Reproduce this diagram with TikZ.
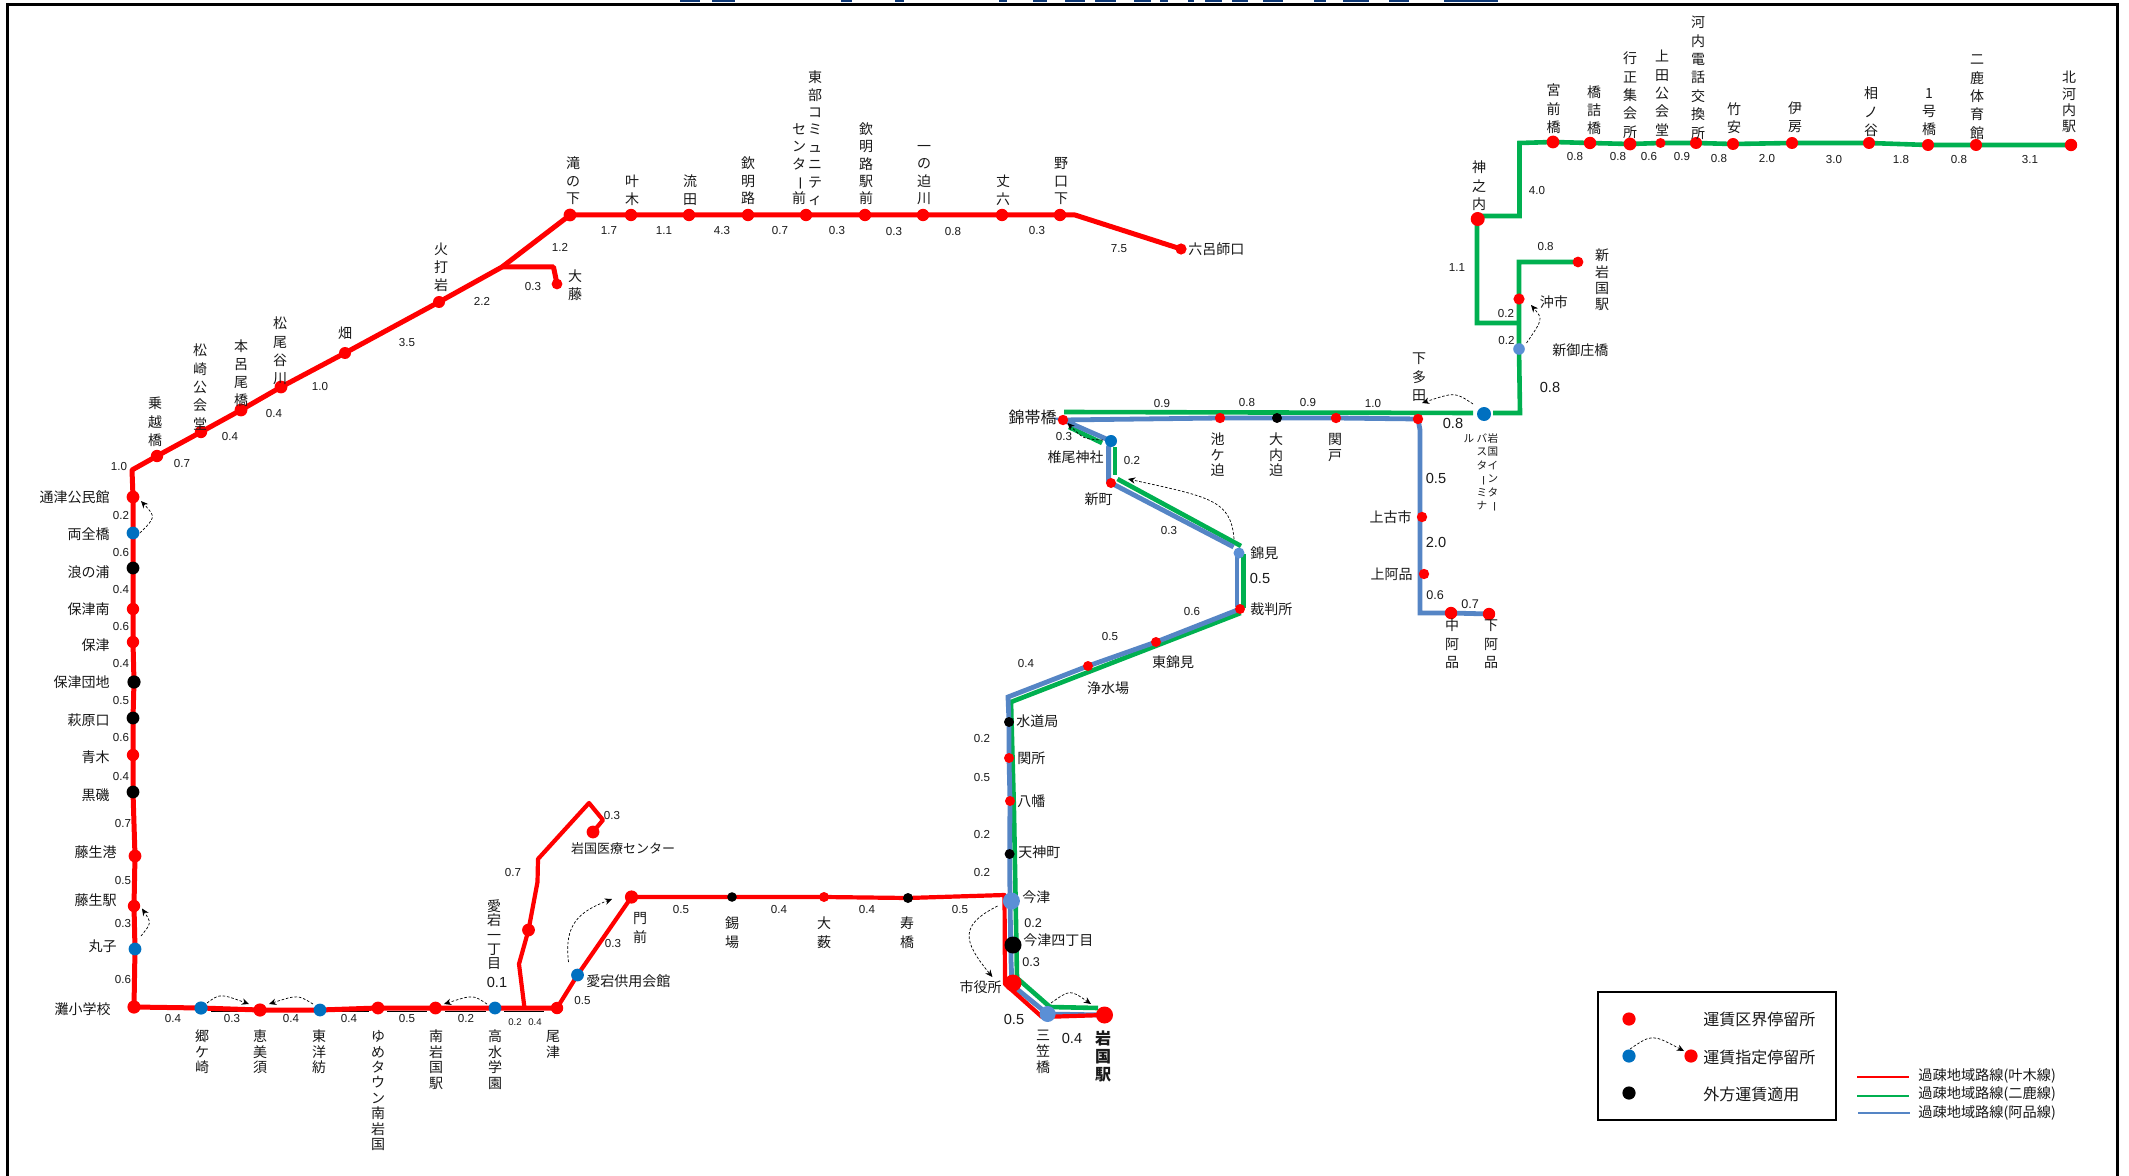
\documentclass[tikz,border=0pt]{standalone}
\usepackage{fontspec}
\setmainfont{Noto Sans CJK JP}
\newfontfamily\numfont{Liberation Sans}
\usetikzlibrary{backgrounds,arrows.meta}
\definecolor{sred}{HTML}{FF0000}
\definecolor{sblue}{HTML}{0070C0}
\definecolor{ssteel}{HTML}{5B8FD6}
\definecolor{lgreen}{HTML}{00B050}
\definecolor{lblue}{HTML}{5585C5}
\definecolor{navy}{HTML}{0F3A78}
\makeatletter
\def\vcho{ー}
\newcommand\vtxt[2]{\vbox{\baselineskip=#1pt\lineskiplimit=-100pt\lineskip=0pt
  \edef\vlist{\noexpand\@tfor\noexpand\vch:=#2\noexpand\do}%
  \vlist{\hbox to 1em{\hss\rule{0pt}{.88em}\ifx\vch\vcho\rotatebox[origin=c]{-90}{\vch}\else\vch\fi\hss}}}}
\makeatother
\tikzset{
  stopnode/.style={circle,inner sep=0pt,draw=none},
  stopred/.style={stopnode,fill=sred},
  stopblue/.style={stopnode,fill=sblue},
  stopsteel/.style={stopnode,fill=ssteel},
  stopblack/.style={stopnode,fill=black},
  lab/.style={inner sep=0pt,font=\fontsize{7}{8.4}\selectfont,text=black!90},
  labsmall/.style={inner sep=0pt,font=\fontsize{5.3}{6}\selectfont,text=black!90},
  labbig/.style={inner sep=0pt,font=\fontsize{8}{9}\selectfont,text=black!90},
  num/.style={inner sep=0pt,font=\numfont\fontsize{5.8}{7}\selectfont,text=black!90},
  nummid/.style={inner sep=0pt,font=\numfont\fontsize{6.3}{7}\selectfont,text=black!90},
  numbig/.style={inner sep=0pt,font=\numfont\fontsize{7.3}{8}\selectfont,text=black!90},
  numtiny/.style={inner sep=0pt,font=\numfont\fontsize{4.8}{6}\selectfont,text=black!90},
  redline/.style={draw=sred,line width=2.5pt,line join=round},
  greenline/.style={draw=lgreen,line width=2.3pt,line join=miter},
  blueline/.style={draw=lblue,line width=2.4pt,line join=miter},
  fare/.style={draw=black,line width=.35pt,dash pattern=on 1.3pt off .9pt,-{Stealth[length=3.6pt,width=3.2pt]}},
  keyline/.style={line width=1.4pt},
}
\begin{document}
\begin{tikzpicture}[x=.5pt,y=-.5pt]
\useasboundingbox (0,0) rectangle (2129,1176);
\begin{pgfonlayer}{background}
\fill[white] (0,0) rectangle (2129,1176);
\end{pgfonlayer}
% remains of the cut-off title
\foreach \a/\b in {680/700,712/735,841/852,895/904,999/1007,1033/1047,1065/1085,1095/1116,1134/1151,1160/1168,1188/1194,1205/1222,1232/1248,1263/1283,1314/1326,1343/1369,1389/1409,1444/1498}
  \fill[navy] (\a,0) rectangle (\b,2);
% frame
\draw[line width=1.6pt] (7.5,1176) -- (7.5,4.5) -- (2117.5,4.5) -- (2117.5,1176);
% stops
\foreach \n/\x/\y/\d in {taki/570/215/6.4,kano/631/215/6.2,nagare/689/215/6.2,kinmei/748/215/6.2,tobu/806/215/6.2,kinekimae/865/215/6.2,ichino/923/215/6.2,jo/1002/215/6.2,noguchi/1060/215/6.2,rokuro/1181/249/5.6,hiuchi/439/302/6,hata/345/353/6,matsuo/281/387/6.4,motoro/241/410/6.4,matsuzaki/201/432/6.2,norikoe/157/456/6.2,ofuji/557/284/5.4,tsuzu/133/497/6.4,honami/133/609/6.2,hozu/133/642/6.2,aoki/133/755/6.2,fujiko/135/856/6.4,fujieki/134/906/6.2,nada/134/1007/6.6,emisu/260/1010/6.6,yume/378/1008/6.4,minami/435.5/1008/6.4,ozu/557/1008/6.2,atago/528.5/930/6.4,iryo/593/832/6.4,monzen/631.5/897/6.6,ouyabu/824/897/5,shiyaku/1013/983/8.5,iwakuni/1104.5/1015/8.5,sekisho/1009/758/5,hachiman/1010/801/5,josui/1088/666/5,higashi/1156/642/5,saiban/1240/609/5,shinmachi/1111/483/5,kintai/1063/420/5.2,ikegasako/1220/418/5.2,sekido/1336/418/5.2,shimotada/1418/419/5.2,kamifuruichi/1422/517/5.2,kamiakina/1424/574/5.2,nakaakina/1451/613/6.2,shimoakina/1489/614/6.2,okiichi/1519/299/5.6,shiniwa/1578/262/5.4,kaminouchi/1477.7/219/7,miyamae/1553/142/6.4,hashizume/1590/143/6.2,gyosho/1630/144/6.4,ueda/1660.5/143/5,kawachi/1696/143/6,takeyasu/1733/144/6,ifusa/1792/143/6,ainotani/1869/143/6,ichigo/1928/145/6,nika/1976/145/6,kitako/2071/145/6.2,keyred/1629/1019/6.6,keyredb/1691/1056/6.6}
  \node[stopred,minimum size=\d pt] (\n) at (\x,\y) {};
\foreach \n/\x/\y/\d in {ryozen/133/533/6.4,maruko/135/949/6.4,gosaki/201/1008/6.6,toyobo/320/1010/6.4,takamizu/495/1008/6.4,aikyo/577.5/975/6.4,shiio/1111/441/6,busterm/1484/414/7,keyblue/1629/1056/6.6}
  \node[stopblue,minimum size=\d pt] (\n) at (\x,\y) {};
\foreach \n/\x/\y/\d in {mikasa/1047.6/1014/8,imazu/1011.4/901/8.5,nishikimi/1239/553/5.5,shinmisho/1519/349/5.8}
  \node[stopsteel,minimum size=\d pt] (\n) at (\x,\y) {};
\foreach \n/\x/\y/\d in {namiura/133/568/6.4,hozudan/134/682/6.6,hagiwara/133/718/6.4,kuroiso/133/792/6.4,suzuba/732/897/4.8,kotobuki/908/898/5,suido/1009/722/5,tenjin/1009.6/854/5,imazu4/1013/945/8.5,oouchi/1277/418/5,keyblack/1629/1093/6.6}
  \node[stopblack,minimum size=\d pt] (\n) at (\x,\y) {};
% way points
\foreach \n/\x/\y in {rbend/1075/215,rjct/502/267,rofa/553.5/267,rcorner/132/470,rat/524.5/1008,rata/519/964,ratb/537.5/882,ratc/538/859,ratd/589/803,rate/603/820,rima/1004.5/895,rshi/1005/984,rmik/1042/1017,
 ga/1098/1008,gb/1050/1007,gc/1017/978,gd/1014/813,ge/1011/702,gf/1240.7/613,gg/1243.6/608,gh/1243.6/554,gi/1241/546,gj/1117.5/479,gk/1115/475,gl/1115/447,gm/1102/443,gn/1069/427,go/1064/412,gp/1473/413,gq/1493/413,gr/1520/413,gs/1519/262,gt/1477/323,gu/1519/323,gv/1477/216,gw/1519.5/216,gx/1519.5/143,
 ba/1012/985,bb/1011/960,bc/1010/900,bd/1008/697,be/1237/607,bf/1237/553,bg/1233.6/547,bh/1108.6/483,bi/1108.6/447,bj/1420/613,bk/1420/430,
 ka/1857/1077,kb/1909/1077,kc/1857/1096,kd/1909/1096,ke/1858/1113,kf/1910/1113}
  \coordinate (\n) at (\x,\y);
% lines
\begin{pgfonlayer}{background}
\foreach \a/\b in {211/251,269/310,328/369,387/427,445/486,504/544}
  \draw[line width=.7pt] (\a,1011.3) -- (\b,1011.3);
\draw[greenline] (kitako.center) -- (nika.center) -- (ichigo.center) -- (ainotani.center) -- (ifusa.center) -- (takeyasu.center) -- (kawachi.center) -- (ueda.center) -- (gyosho.center) -- (hashizume.center) -- (miyamae.center) -- (gx) -- (gw) -- (gv) -- (gt) -- (gu);
\draw[greenline] (shiniwa.center) -- (gs) -- (okiichi.center) -- (gu) -- (shinmisho.center) -- (gr) -- (gq);
\draw[greenline] (gp) -- (go);
\draw[greenline] (gn) -- (gm);
\draw[greenline] (gl) -- (gk);
\draw[greenline] (gj) -- (gi);
\draw[greenline] (gh) -- (gg);
\draw[greenline] (gf) -- (ge) -- (gd) -- (gc) -- (gb) -- (ga);
\draw[blueline] (shimoakina.center) -- (nakaakina.center) -- (bj) -- (bk) -- (shimotada.center) -- (sekido.center) -- (oouchi.center) -- (ikegasako.center) -- (kintai.center) -- (shiio.center);
\draw[blueline] (shiio.center) -- (bi) -- (bh);
\draw[blueline] (shinmachi.center) -- (bg);
\draw[blueline] (bf) -- (be);
\draw[blueline] (saiban.center) -- (higashi.center) -- (josui.center) -- (bd) -- (suido.center) -- (sekisho.center) -- (hachiman.center) -- (tenjin.center) -- (bc) -- (bb) -- (ba) -- (mikasa.center) -- (iwakuni.center);
\draw[redline] (rokuro.center) -- (rbend) -- (noguchi.center) -- (jo.center) -- (ichino.center) -- (kinekimae.center) -- (tobu.center) -- (kinmei.center) -- (nagare.center) -- (kano.center) -- (taki.center) -- (rjct) -- (hiuchi.center) -- (hata.center) -- (matsuo.center) -- (motoro.center) -- (matsuzaki.center) -- (norikoe.center) -- (rcorner) -- (tsuzu.center) -- (ryozen.center) -- (namiura.center) -- (honami.center) -- (hozu.center) -- (hozudan.center) -- (hagiwara.center) -- (aoki.center) -- (kuroiso.center) -- (fujiko.center) -- (fujieki.center) -- (maruko.center) -- (nada.center) -- (gosaki.center) -- (emisu.center) -- (toyobo.center) -- (yume.center) -- (minami.center) -- (takamizu.center) -- (rat) -- (ozu.center);
\draw[redline,line width=2.1pt] (ozu.center) -- (aikyo.center) -- (monzen.center) -- (suzuba.center) -- (ouyabu.center) -- (kotobuki.center) -- (rima) -- (rshi) -- (rmik) -- (iwakuni.center);
\draw[redline] (rjct) -- (rofa) -- (ofuji.center);
\draw[redline,line width=2.1pt] (rat) -- (rata) -- (atago.center) -- (ratb) -- (ratc) -- (ratd) -- (rate) -- (iryo.center);
\end{pgfonlayer}
% fare arrows
\foreach \i/\sx/\sy/\ax/\ay/\bx/\by/\ex/\ey in {1/140/533/155.8/517/155.8/517/141/501,2/141/936/151.5/923/151.5/923/142/908.5,3/207/1003/220/993.5/220/993.5/249/1004,4/313/1004/297.7/994.7/297.7/994.7/269/1004,5/487/1004/473/994.7/473/994.7/444/1004,6/568.5/962/564/925/578/912/612/899,7/997.6/906/960/925/962/940/992.4/977,8/1051/1003/1070/989.5/1070/989.5/1091/1004,9/1526.5/343/1543/319/1543/319/1531/305,10/1473/404/1455/392/1455/392/1422/403,11/1103/440/1083.4/439/1083.4/439/1067.5/423,12/1234/539/1231/500/1210/497/1128/479,13/1630/1049/1652/1034/1652/1034/1684/1051}{
  \coordinate (fs\i) at (\sx,\sy);
  \coordinate (fe\i) at (\ex,\ey);
  \draw[fare] (fs\i) .. controls (\ax,\ay) and (\bx,\by) .. (fe\i);
}
% vertical labels: x, y of first character centre, pitch in pt, text
\foreach \x/\y/\p/\tx [count=\i] in {573/163/8.8/滝の下,632/181/8.7/叶木,690/181/8.7/流田,748/163/8.8/欽明路,815/77/8.7/東部コミュニティ,799/129/8.6/センター前,866/129/8.6/欽明路駅前,924/146/8.6/一の迫川,1003/181/8.7/丈六,1061/163/8.8/野口下,441/249/9/火打岩,345/333/9/畑,280/323/9.2/松尾谷川,241/346/9/本呂尾橋,200/350/9.2/松崎公会堂,155/403/9.2/乗越橋,575/276/8.8/大藤,202/1036/7.8/郷ケ崎,260/1036/7.8/恵美須,319/1036/7.8/東洋紡,378/1036/7.7/ゆめタウン南岩国,436/1036/7.8/南岩国駅,495/1036/7.8/高水学園,553/1036/7.8/尾津,494/906/7.1/愛宕一丁目,640/918/9.5/門前,732/923/9.5/錫場,824/923/9.5/大薮,907/923/9.5/寿橋,1043/1035/8/三笠橋,1419/358/9.3/下多田,1452/625/9.3/中阿品,1491/625/9.3/下阿品,1217.5/439/7.8/池ケ迫,1276/439/7.8/大内迫,1335/439/7.8/関戸,1479/167/9.3/神之内,1602/255/8.2/新岩国駅,1553.5/90/9.2/宮前橋,1594/92/9/橋詰橋,1630/58/9.2/行正集会所,1662/56/9.2/上田公会堂,1698/22/9.2/河内電話交換所,1734/109/9/竹安,1795/108/9/伊房,1871/93/9.2/相ノ谷,1929/93/9/1号橋,1977/59/9.2/二鹿体育館,2069/77/8.2/北河内駅}
  \node[lab,anchor=north] (v\i) at (\x,\y-7) {\vtxt{\p}{\tx}};
\foreach \x/\tx [count=\i] in {1493/岩国インター,1482/バスターミナ,1469/ル}
  \node[labsmall,anchor=north] (vb\i) at (\x,438-5.3) {\vtxt{6.7}{\tx}};
\node[labbig,anchor=north,font=\fontsize{8}{9}\selectfont\bfseries] (vbold) at (1103,1038-8) {\vtxt{9}{岩国駅}};
% horizontal labels
\foreach \x/\y/\tx [count=\i] in {110/497/通津公民館,110/534/両全橋,110/572/浪の浦,110/609/保津南,110/645/保津,110/682/保津団地,110/720/萩原口,110/757/青木,110/795/黒磯,117/852/藤生港,117/900/藤生駅,117/946/丸子,111/1009/灘小学校,1002/987/市役所,1104/457/椎尾神社,1412/517/上古市,1413/574/上阿品}
  \node[lab,anchor=east] (he\i) at (\x,\y) {\tx};
\node[labbig,anchor=east] (hkintai) at (1057,417) {錦帯橋};
\foreach \x/\y/\tx [count=\i] in {1188/249/六呂師口,586/981/愛宕供用会館,1539.5/302/沖市,1552/350/新御庄橋,1016/721/水道局,1017/758/関所,1017/801/八幡,1018/852/天神町,1022/897/今津,1023/940/今津四丁目,1250/553/錦見,1250/609/裁判所}
  \node[lab,anchor=west] (hw\i) at (\x,\y) {\tx};
\node[lab,anchor=west,font=\fontsize{6.5}{8}\selectfont] (hiryo) at (570.6,849) {岩国医療センター};
\foreach \x/\y/\tx [count=\i] in {1098.6/499/新町,1173/662/東錦見,1108/688/浄水場}
  \node[lab] (hc\i) at (\x,\y) {\tx};
% distances
\foreach \x/\y/\tx [count=\i] in {609/231/1.7,664/231/1.1,722/231/4.3,780/231/0.7,837/231/0.3,894/232/0.3,953/232/0.8,1037/231/0.3,1119/249/7.5,560/247/1.2,533/287/0.3,119/467/1.0,182/464/0.7,230/437/0.4,274/414/0.4,320/387/1.0,407/343/3.5,482/301/2.2,121/516/0.2,121/553/0.6,121/590/0.4,121/627/0.6,121/664/0.4,121/701/0.5,121/738/0.6,121/776/0.4,123/823/0.7,123/880/0.5,123/923/0.3,123/979/0.6,173/1018/0.4,232/1018/0.3,291/1018/0.4,349/1018/0.4,407/1018/0.5,466/1018/0.2,513/872/0.7,612/815/0.3,582.5/1000/0.5,613/943/0.3,681/909/0.5,779/909/0.4,867/909/0.4,960/909/0.5,982/739/0.2,982/777/0.5,982/834/0.2,982/872/0.2,1026/664/0.4,1110/637/0.5,1192/612/0.6,1169/531/0.3,1064/437/0.3,1132/461/0.2,1162/404/0.9,1247/403/0.8,1308/403/0.9,1373/404/1.0,1575/157/0.8,1618/157/0.8,1649/157/0.6,1682/157/0.9,1719/159/0.8,1767/159/2.0,1834/160/3.0,1901/160/1.8,1959/160/0.8,2030/160/3.1,1537/191/4.0,1457/268/1.1,1545.6/247/0.8,1506/314/0.2,1506.5/341/0.2}
  \node[num] (d\i) at (\x,\y) {\tx};
\foreach \x/\y/\tx [count=\i] in {1033/923/0.2,1031/962/0.3,1435/595/0.6,1470/604/0.7}
  \node[nummid] (dm\i) at (\x,\y) {\tx};
\foreach \x/\y/\tx [count=\i] in {1550/387/0.8,1453/423/0.8,1436/478/0.5,1436/542/2.0,1260/578/0.5,1014/1019/0.5,1072/1038/0.4,497/982/0.1}
  \node[numbig] (db\i) at (\x,\y) {\tx};
\foreach \x/\y/\tx [count=\i] in {515/1022/0.2,535/1022/0.4}
  \node[numtiny] (dt\i) at (\x,\y) {\tx};
% legend
\node[draw,line width=.65pt,minimum width=119pt,minimum height=64pt,inner sep=0pt] (legendbox) at (1717,1056) {};
\foreach \y/\tx [count=\i] in {1019/運賃区界停留所,1057/運賃指定停留所,1094/外方運賃適用}
  \node[labbig,anchor=west] (kt\i) at (1703,\y) {\tx};
\draw[keyline,draw=sred] (ka) -- (kb);
\draw[keyline,draw=lgreen] (kc) -- (kd);
\draw[keyline,draw=lblue] (ke) -- (kf);
\foreach \y/\tx [count=\i] in {1076/過疎地域路線(叶木線),1094/過疎地域路線(二鹿線),1113/過疎地域路線(阿品線)}
  \node[lab,anchor=west,font=\fontsize{7.1}{8}\selectfont] (kl\i) at (1918,\y) {\tx};
\end{tikzpicture}
\end{document}
